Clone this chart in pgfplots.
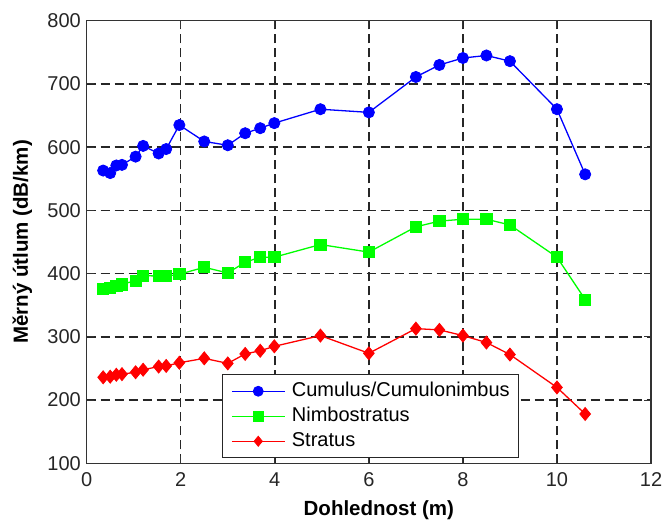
\documentclass[border=0pt]{standalone}
\usepackage{fontspec}
\setmainfont{Liberation Sans}
\usepackage{pgfplots}
\pgfplotsset{compat=1.18}
\begin{document}
\begin{tikzpicture}
\begin{axis}[
  at={(0pt,0pt)}, anchor=south west,
  scale only axis, width=564.3pt, height=442.6pt,
  xmin=0, xmax=12, ymin=100, ymax=800,
  xtick={0,2,...,12}, ytick={100,200,...,800},
  /pgf/number format/assume math mode=true,
  tick label style={font=\fontsize{20}{24}\selectfont, inner sep=0pt, text=black!85},
  xticklabel style={yshift=-9pt},
  yticklabel style={xshift=-5.7pt},
  tick align=inside, major tick length=7pt,
  tick style={black!80, line width=1pt},
  axis line style={black!80, line width=1.1pt},
  grid=major,
  major grid style={black!85, line width=1.4pt, dash pattern=on 9pt off 5pt},
  xlabel={\textbf{Dohlednost (m)}},
  ylabel={\textbf{Měrný útlum (dB/km)}},
  label style={font=\fontsize{20.5}{24}\selectfont},
  xlabel style={at={(axis description cs:0.5,0)}, anchor=base, yshift=-51.7pt, xshift=10pt},
  ylabel style={at={(axis description cs:-0.1044,0.5)}, anchor=base, rotate=0},
  legend image code/.code={
    \draw[#1] (0pt,0pt) -- (52.6pt,0pt);
    \draw[#1, mark size=5pt] plot coordinates {(26.3pt,0pt)};
  },
  legend style={at={(0.2393,0.0113)}, anchor=south west, draw=black!85, line width=1.1pt,
    inner xsep=9pt, inner ysep=7pt, row sep=6pt, column sep=6.7pt,
    font=\fontsize{20}{24}\selectfont,
    nodes={inner sep=0pt, text height=14.5pt, text depth=4.5pt},
    cells={anchor=west}},
  legend cell align=left,
]
\addplot[blue, line width=1.3pt, mark=*, mark size=5.6pt, mark options={fill=blue, draw=blue, line width=0.8pt}] coordinates {
(0.35,563) (0.5,559) (0.63,571) (0.75,572) (1.04,585) (1.2,602) (1.53,590) (1.69,597)
(1.97,635) (2.5,609) (3.0,603) (3.37,622) (3.69,630) (3.99,638) (4.97,660) (6.0,655)
(7.0,711) (7.5,730) (8.0,741) (8.5,745) (9.0,736) (10.0,660) (10.6,557)};
\addlegendentry{Cumulus/Cumulonimbus}
\addplot[green, line width=1.3pt, mark=square*, mark size=5.6pt, mark options={fill=green, draw=green, line width=0.8pt}] coordinates {
(0.35,376) (0.5,378) (0.63,380) (0.75,383) (1.04,389) (1.2,397) (1.53,396) (1.69,396)
(1.97,399) (2.5,410) (3.0,401) (3.37,418) (3.69,426) (3.99,426) (4.97,446) (6.0,434)
(7.0,474) (7.5,483) (8.0,486) (8.5,486) (9.0,477) (10.0,426) (10.6,359)};
\addlegendentry{Nimbostratus}
\addplot[red, line width=1.3pt, mark=diamond*, mark size=6.5pt, mark options={fill=red, draw=red, line width=0.8pt, xscale=1.1}] coordinates {
(0.35,236) (0.5,237) (0.63,240) (0.75,241) (1.04,244) (1.2,248) (1.53,253) (1.69,254)
(1.97,259) (2.5,266) (3.0,258) (3.37,273) (3.69,278) (3.99,285) (4.97,302) (6.0,274)
(7.0,313) (7.5,311) (8.0,302) (8.5,291) (9.0,272) (10.0,220) (10.6,178)};
\addlegendentry{Stratus}
\end{axis}
\pgfresetboundingbox
\path[use as bounding box] (-86.7pt,-55.7pt) rectangle (579.3pt,463.3pt);
\end{tikzpicture}
\end{document}
